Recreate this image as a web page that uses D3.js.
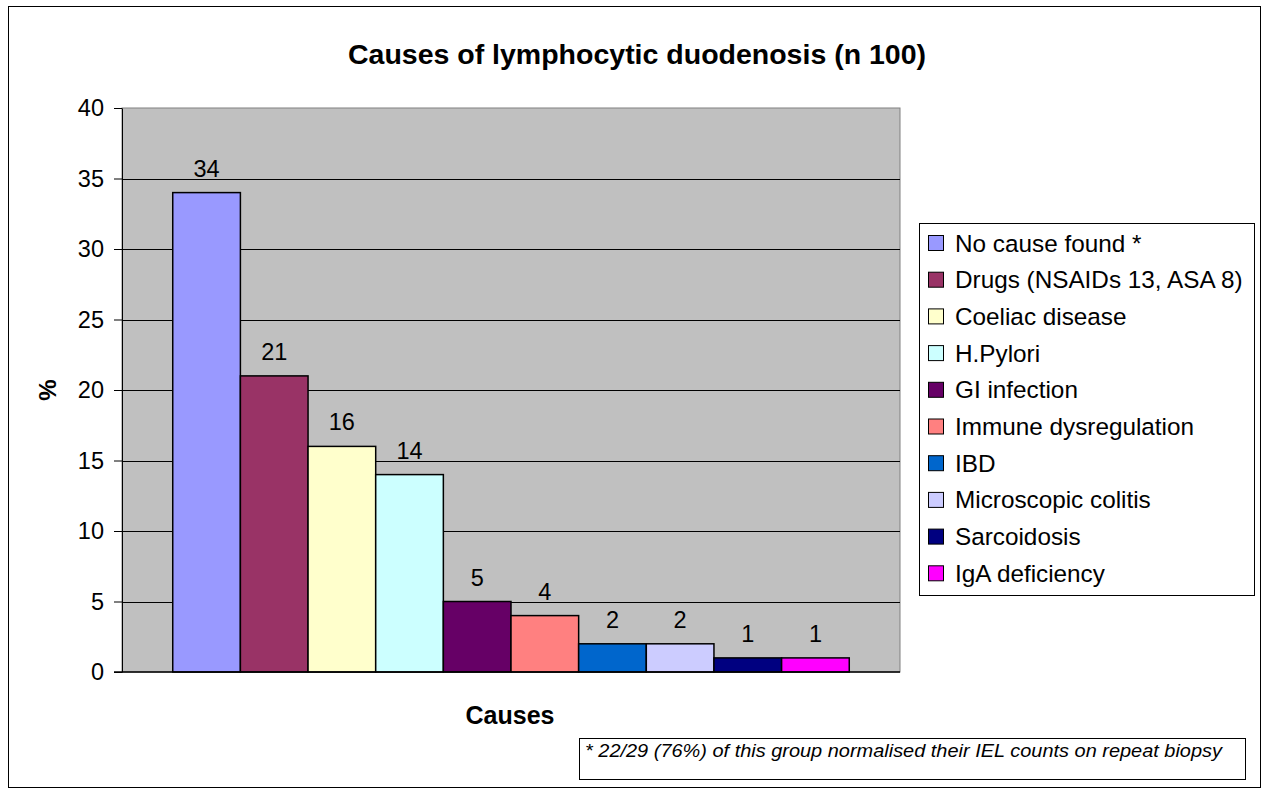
<!DOCTYPE html>
<html>
<head>
<meta charset="utf-8">
<script src="https://cdn.jsdelivr.net/npm/d3@7"></script>
<style>
  body { margin: 0; background: #fff; }
  text { font-family: "Liberation Sans", Arial, sans-serif; }
</style>
</head>
<body>
<div id="chart"></div>
<script>
var causes = ["No cause found *", "Drugs (NSAIDs 13, ASA 8)", "Coeliac disease", "H.Pylori",
  "GI infection", "Immune dysregulation", "IBD", "Microscopic colitis", "Sarcoidosis", "IgA deficiency"];
var percents = [34, 21, 16, 14, 5, 4, 2, 2, 1, 1];
var colors = ["#9999FF", "#993366", "#FFFFCC", "#CCFFFF", "#660066",
  "#FF8080", "#0066CC", "#CCCCFF", "#000080", "#FF00FF"];
var yTicks = [0, 5, 10, 15, 20, 25, 30, 35, 40];
var footnote = "* 22/29 (76%) of this group normalised their IEL counts on repeat biopsy";

(function() {
  var width = 1268, height = 794;
  var plot = { left: 122, right: 900, top: 108, bottom: 672 };

  var svg = d3.select("#chart").append("svg")
    .attr("width", width)
    .attr("height", height);

  // outer chart border
  svg.append("rect")
    .attr("x", 8.5).attr("y", 6.5)
    .attr("width", 1252).attr("height", 781)
    .attr("fill", "#fff").attr("stroke", "#000");

  svg.append("text")
    .attr("x", 637).attr("y", 64)
    .attr("text-anchor", "middle")
    .style("font-size", "28.5px").style("font-weight", "bold")
    .text("Causes of lymphocytic duodenosis (n 100)");

  var y = d3.scaleLinear().domain([0, 40]).range([plot.bottom, plot.top]);
  var x = d3.scaleBand().domain(causes)
    .range([plot.left, plot.right])
    .paddingInner(0).paddingOuter(0.75);

  // plot background
  svg.append("rect")
    .attr("x", plot.left).attr("y", plot.top)
    .attr("width", plot.right - plot.left).attr("height", plot.bottom - plot.top)
    .attr("fill", "#C0C0C0").attr("stroke", "#808080");

  // gridlines
  svg.selectAll(".grid")
    .data(yTicks.filter(function(d) { return d > 0 && d < 40; }))
    .enter().append("line")
    .attr("class", "grid")
    .attr("x1", plot.left).attr("x2", plot.right)
    .attr("y1", function(d) { return Math.round(y(d)) + 0.5; })
    .attr("y2", function(d) { return Math.round(y(d)) + 0.5; })
    .attr("stroke", "#000");

  var yAxis = svg.append("g")
    .attr("transform", "translate(" + plot.left + ",0)")
    .call(d3.axisLeft(y).tickValues(yTicks).tickSize(8).tickPadding(10).tickSizeOuter(0));
  yAxis.selectAll("text").style("font-size", "23.5px").attr("fill", "#000");
  yAxis.selectAll("line, path").attr("stroke", "#000");

  // bars
  svg.selectAll(".bar")
    .data(percents)
    .enter().append("rect")
    .attr("class", "bar")
    .attr("x", function(d, i) { return x(causes[i]); })
    .attr("y", function(d) { return y(d); })
    .attr("width", x.bandwidth())
    .attr("height", function(d) { return y(0) - y(d); })
    .attr("fill", function(d, i) { return colors[i]; })
    .attr("stroke", "#000").attr("stroke-width", 1.5);

  // baseline
  svg.append("line")
    .attr("x1", plot.left - 8).attr("x2", plot.right)
    .attr("y1", y(0)).attr("y2", y(0))
    .attr("stroke", "#000").attr("stroke-width", 1.5);

  // value labels
  svg.selectAll(".val")
    .data(percents)
    .enter().append("text")
    .attr("class", "val")
    .attr("x", function(d, i) { return x(causes[i]) + x.bandwidth() / 2; })
    .attr("y", function(d) { return y(d) - 16; })
    .attr("text-anchor", "middle")
    .style("font-size", "23.5px")
    .text(function(d) { return d; });

  // axis titles
  svg.append("text")
    .attr("x", 510).attr("y", 724)
    .attr("text-anchor", "middle")
    .style("font-size", "25px").style("font-weight", "bold")
    .text("Causes");

  svg.append("text")
    .attr("transform", "translate(56,390) rotate(-90)")
    .attr("text-anchor", "middle")
    .style("font-size", "24px").style("font-weight", "bold")
    .text("%");

  // legend
  var legend = svg.append("g");
  legend.append("rect")
    .attr("x", 919.5).attr("y", 223.5)
    .attr("width", 335).attr("height", 372)
    .attr("fill", "#fff").attr("stroke", "#000");

  var rows = legend.selectAll(".item")
    .data(causes)
    .enter().append("g")
    .attr("class", "item")
    .attr("transform", function(d, i) { return "translate(928," + (243 + i * 36.7) + ")"; });
  rows.append("rect")
    .attr("x", 0.5).attr("y", -7.5)
    .attr("width", 15).attr("height", 15)
    .attr("fill", function(d, i) { return colors[i]; })
    .attr("stroke", "#000");
  rows.append("text")
    .attr("x", 27).attr("y", 8.5)
    .style("font-size", "24.3px")
    .text(function(d) { return d; });

  // footnote box
  svg.append("rect")
    .attr("x", 579.5).attr("y", 738.5)
    .attr("width", 666).attr("height", 41)
    .attr("fill", "#fff").attr("stroke", "#000");
  svg.append("text")
    .attr("x", 585).attr("y", 757)
    .attr("textLength", 637).attr("lengthAdjust", "spacingAndGlyphs")
    .style("font-size", "18px").style("font-style", "italic")
    .text(footnote);
})();
</script>
</body>
</html>
